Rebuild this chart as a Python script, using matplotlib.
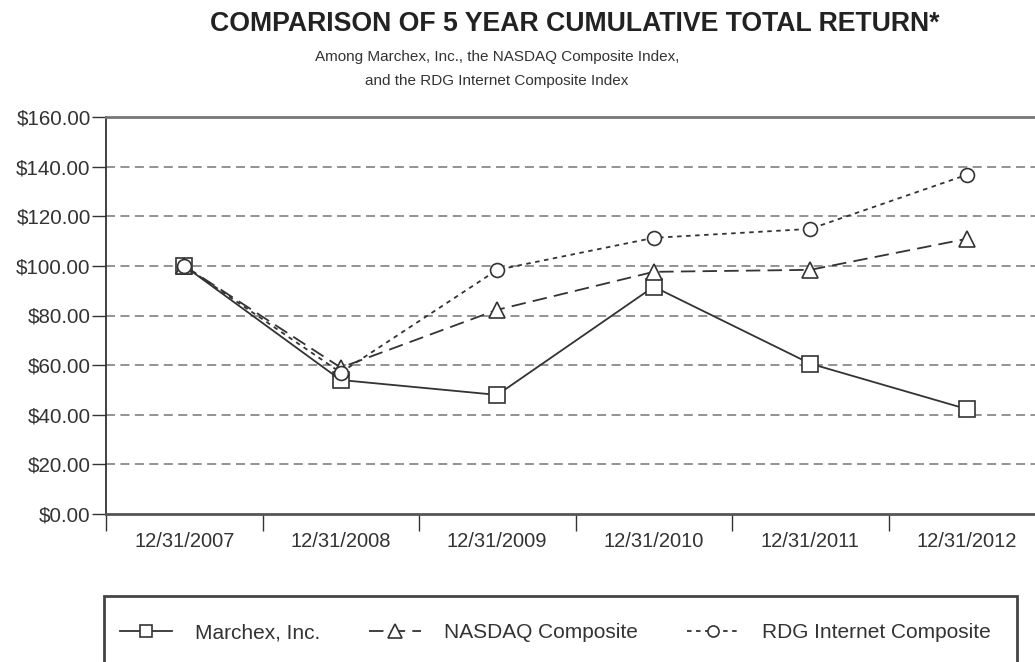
import matplotlib
matplotlib.use("Agg")
import matplotlib.pyplot as plt
from matplotlib.patches import Rectangle
from matplotlib.ticker import FuncFormatter

plt.rcParams['font.family'] = ['Liberation Sans', 'DejaVu Sans']

# values
dates = ["12/31/2007", "12/31/2008", "12/31/2009", "12/31/2010", "12/31/2011", "12/31/2012"]
marchex = [100.0, 54.0, 48.0, 91.6, 60.6, 42.3]
nasdaq = [100.0, 59.0, 82.3, 97.6, 98.4, 110.9]
rdg = [100.0, 57.0, 98.4, 111.3, 114.9, 136.7]

W, H = 1035, 662
fig = plt.figure(figsize=(W / 100, H / 100), dpi=100)
ax = fig.add_axes([106 / W, 1 - 514 / H, (1045 - 106) / W, (514 - 117) / H])

ink = "#333333"
x = list(range(len(dates)))

ax.plot(x, marchex, color=ink, lw=1.3, ls="-", marker="s", ms=11.5,
        mfc="white", mec=ink, mew=1.2, label="Marchex, Inc.", zorder=3)
ax.plot(x, nasdaq, color=ink, lw=1.3, ls=(0, (8, 4)), marker="^", ms=12,
        mfc="white", mec=ink, mew=1.2, label="NASDAQ Composite", zorder=4)
ax.plot(x, rdg, color=ink, lw=1.3, ls=(0, (2.5, 2.5)), marker="o", ms=10,
        mfc="white", mec=ink, mew=1.2, label="RDG Internet Composite", zorder=5)

ax.set_ylim(0, 160)
ax.set_yticks(range(0, 161, 20))
ax.yaxis.set_major_formatter(FuncFormatter(lambda v, p: f"${v:.2f}"))
ax.set_xlim(-0.5, len(dates) - 0.5)
ax.set_xticks(x)
ax.set_xticklabels(dates)
ax.set_xticks([i - 0.5 for i in range(len(dates))], minor=True)

for v in range(20, 160, 20):
    ax.axhline(v, color="#8a8a8a", lw=1.3, ls=(0, (5, 3)), zorder=1)

ax.tick_params(axis="y", labelsize=14.8, colors=ink, length=10, width=1, pad=1)
ax.tick_params(axis="x", which="major", length=0, labelsize=14.5, colors=ink, pad=13)
ax.tick_params(axis="x", which="minor", length=12, width=1, color=ink)

ax.spines["left"].set_color(ink)
ax.spines["left"].set_linewidth(1.3)
ax.spines["bottom"].set_color("#555555")
ax.spines["bottom"].set_linewidth(2.0)
ax.spines["top"].set_color("#777777")
ax.spines["top"].set_linewidth(2.0)
ax.spines["right"].set_visible(False)

fig.text(575 / W, 1 - 24 / H, "COMPARISON OF 5 YEAR CUMULATIVE TOTAL RETURN*",
         ha="center", va="center", fontsize=19.2, fontweight="bold", color="#222222")
fig.text(497 / W, 1 - 57 / H, "Among Marchex, Inc., the NASDAQ Composite Index,",
         ha="center", va="center", fontsize=11, color=ink)
fig.text(497 / W, 1 - 81 / H, "and the RDG Internet Composite Index",
         ha="center", va="center", fontsize=11, color=ink)

# legend frame runs off the bottom of the picture
fig.patches.append(Rectangle((104 / W, -0.1), (1017 - 104) / W, 0.1 + 1 - 596 / H,
                             transform=fig.transFigure, fill=False,
                             edgecolor="#444444", lw=2.0))
leg = fig.legend(loc="center left", ncol=3, bbox_to_anchor=(120 / W, 1 - 633 / H),
                 frameon=False, fontsize=15, handlelength=2.5, handletextpad=1.1,
                 columnspacing=2.35, borderpad=0, borderaxespad=0, markerscale=0.8)
for t in leg.get_texts():
    t.set_color(ink)

fig.savefig("out.png", dpi=100)
